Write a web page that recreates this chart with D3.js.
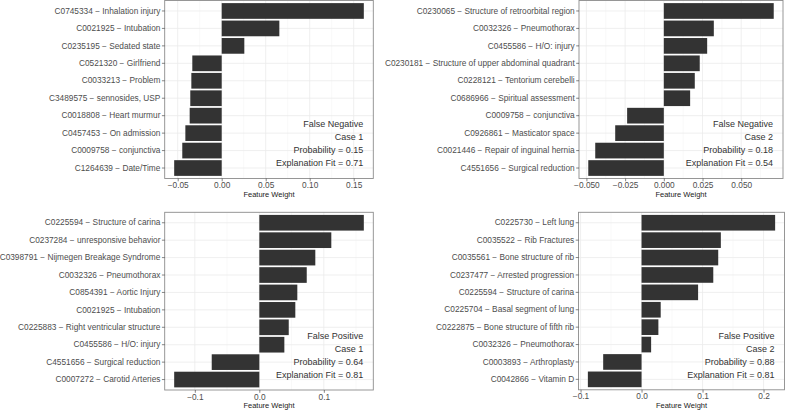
<!DOCTYPE html>
<html>
<head>
<meta charset="utf-8">
<script src="https://d3js.org/d3.v7.min.js"></script>
<style>
    body {
        margin: 0;
        background: #ffffff;
    }
    text {
        font-family: "Liberation Sans", Arial, Helvetica, sans-serif;
    }
    .axis .tick text {
        font-size: 8.3px;
        fill: #4d4d4d;
    }
    .axis .tick line {
        stroke: #333333;
        stroke-width: 0.6px;
    }
    .axis path.domain {
        display: none;
    }
    .grid-major {
        stroke: #ebebeb;
        stroke-width: 0.8px;
    }
    .grid-minor {
        stroke: #f2f2f2;
        stroke-width: 0.5px;
    }
    text.axis-title {
        font-size: 7.5px;
        fill: #222222;
    }
    text.note {
        font-size: 9px;
        fill: #333333;
    }
</style>
</head>
<body>
<div id="container"></div>

<script>

    // ---- data ----
    const fn1Labels = ["C0745334 − Inhalation injury", "C0021925 − Intubation", "C0235195 − Sedated state",
        "C0521320 − Girlfriend", "C0033213 − Problem", "C3489575 − sennosides, USP", "C0018808 − Heart murmur",
        "C0457453 − On admission", "C0009758 − conjunctiva", "C1264639 − Date/Time"];
    const fn1Weights = [0.1615, 0.0655, 0.0257, -0.0334, -0.0345, -0.0357, -0.0364, -0.0413, -0.0448, -0.0540];
    const fn1Ticks = [-0.05, 0, 0.05, 0.10, 0.15];
    const fn1Notes = ["False Negative", "Case 1", "Probability = 0.15", "Explanation Fit = 0.71"];

    const fn2Labels = ["C0230065 − Structure of retroorbital region", "C0032326 − Pneumothorax", "C0455586 − H/O: injury",
        "C0230181 − Structure of upper abdominal quadrant", "C0228121 − Tentorium cerebelli", "C0686966 − Spiritual assessment",
        "C0009758 − conjunctiva", "C0926861 − Masticator space", "C0021446 − Repair of inguinal hernia", "C4551656 − Surgical reduction"];
    const fn2Weights = [0.0710, 0.0323, 0.0280, 0.0232, 0.0200, 0.0170, -0.0237, -0.0314, -0.0443, -0.0488];
    const fn2Ticks = [-0.050, -0.025, 0, 0.025, 0.050];
    const fn2Notes = ["False Negative", "Case 2", "Probability = 0.18", "Explanation Fit = 0.54"];

    const fp1Labels = ["C0225594 − Structure of carina", "C0237284 − unresponsive behavior", "C0398791 − Nijmegen Breakage Syndrome",
        "C0032326 − Pneumothorax", "C0854391 − Aortic Injury", "C0021925 − Intubation", "C0225883 − Right ventricular structure",
        "C0455586 − H/O: injury", "C4551656 − Surgical reduction", "C0007272 − Carotid Arteries"];
    const fp1Weights = [0.1620, 0.1116, 0.0868, 0.0735, 0.0589, 0.0558, 0.0456, 0.0388, -0.0738, -0.1320];
    const fp1Ticks = [-0.1, 0, 0.1];
    const fp1Notes = ["False Positive", "Case 1", "Probability = 0.64", "Explanation Fit = 0.81"];

    const fp2Labels = ["C0225730 − Left lung", "C0035522 − Rib Fractures", "C0035561 − Bone structure of rib",
        "C0237477 − Arrested progression", "C0225594 − Structure of carina", "C0225704 − Basal segment of lung",
        "C0222875 − Bone structure of fifth rib", "C0032326 − Pneumothorax", "C0003893 − Arthroplasty", "C0042866 − Vitamin D"];
    const fp2Weights = [0.2190, 0.1300, 0.1257, 0.1176, 0.0927, 0.0314, 0.0276, 0.0157, -0.0629, -0.0880];
    const fp2Ticks = [-0.1, 0, 0.1, 0.2];
    const fp2Notes = ["False Positive", "Case 2", "Probability = 0.88", "Explanation Fit = 0.81"];

    // panel boxes in page pixels (layout only)
    const boxes = [
        {x0: 164.7, x1: 373.3, y0: 0.5, y1: 178.5},
        {x0: 579, x1: 783, y0: 0.5, y1: 178.5},
        {x0: 164.7, x1: 373.3, y0: 212.3, y1: 390},
        {x0: 578.5, x1: 784.5, y0: 212.3, y1: 389.8}
    ];

    const panels = [
        {labels: fn1Labels, weights: fn1Weights, ticks: fn1Ticks, notes: fn1Notes, fmt: ".2f"},
        {labels: fn2Labels, weights: fn2Weights, ticks: fn2Ticks, notes: fn2Notes, fmt: ".3f"},
        {labels: fp1Labels, weights: fp1Weights, ticks: fp1Ticks, notes: fp1Notes, fmt: ".1f"},
        {labels: fp2Labels, weights: fp2Weights, ticks: fp2Ticks, notes: fp2Notes, fmt: ".1f"}
    ];

    const svg = d3.select("#container")
        .append("svg")
        .attr("width", 788)
        .attr("height", 411);

    panels.forEach(function(p, i) {
        const b = boxes[i];
        const rows = p.labels.map((l, j) => ({label: l, weight: p.weights[j]}));

        // x scale with ggplot-like 5% expansion
        const lo = d3.min(p.weights), hi = d3.max(p.weights);
        const pad = (hi - lo) * 0.05;
        const x = d3.scaleLinear()
            .domain([lo - pad, hi + pad])
            .range([b.x0, b.x1]);

        // y scale: discrete, 0.9 bar width, 0.6 unit expansion
        const y = d3.scaleBand()
            .domain(p.labels)
            .range([b.y0, b.y1])
            .paddingInner(0.1)
            .paddingOuter(0.15);

        const g = svg.append("g");

        // minor grid (midpoints between the major ticks)
        const step = p.ticks[1] - p.ticks[0];
        const minors = d3.range(p.ticks[0] - step / 2, hi + pad + step, step)
            .filter(v => v > lo - pad && v < hi + pad);
        g.selectAll(".grid-minor")
            .data(minors)
            .join("line")
            .attr("class", "grid-minor")
            .attr("x1", d => x(d)).attr("x2", d => x(d))
            .attr("y1", b.y0).attr("y2", b.y1);

        // major grid
        g.selectAll(".gx")
            .data(p.ticks)
            .join("line")
            .attr("class", "grid-major gx")
            .attr("x1", d => x(d)).attr("x2", d => x(d))
            .attr("y1", b.y0).attr("y2", b.y1);
        g.selectAll(".gy")
            .data(p.labels)
            .join("line")
            .attr("class", "grid-major gy")
            .attr("x1", b.x0).attr("x2", b.x1)
            .attr("y1", d => y(d) + y.bandwidth() / 2)
            .attr("y2", d => y(d) + y.bandwidth() / 2);

        // bars
        g.selectAll(".bar")
            .data(rows)
            .join("rect")
            .attr("class", "bar")
            .attr("x", d => x(Math.min(0, d.weight)))
            .attr("width", d => Math.abs(x(d.weight) - x(0)))
            .attr("y", d => y(d.label))
            .attr("height", y.bandwidth())
            .attr("fill", "#333333");

        // panel border
        g.append("rect")
            .attr("x", b.x0).attr("y", b.y0)
            .attr("width", b.x1 - b.x0).attr("height", b.y1 - b.y0)
            .attr("fill", "none")
            .attr("stroke", "#8c8c8c")
            .attr("stroke-width", 0.9);

        // axes
        g.append("g")
            .attr("class", "axis")
            .attr("transform", `translate(0, ${b.y1})`)
            .call(d3.axisBottom(x).tickValues(p.ticks).tickFormat(d3.format(p.fmt)).tickSize(2.8).tickPadding(1));
        g.append("g")
            .attr("class", "axis")
            .attr("transform", `translate(${b.x0}, 0)`)
            .call(d3.axisLeft(y).tickSize(2.8).tickPadding(1.5));

        // axis title
        g.append("text")
            .attr("class", "axis-title")
            .attr("x", (b.x0 + b.x1) / 2)
            .attr("y", b.y1 + 18.4)
            .attr("text-anchor", "middle")
            .text("Feature Weight");

        // notes, bottom right
        g.selectAll(".note")
            .data(p.notes)
            .join("text")
            .attr("class", "note")
            .attr("x", b.x1 - 10)
            .attr("y", (d, k) => b.y0 + 126.8 + k * 13)
            .attr("text-anchor", "end")
            .text(d => d);
    });

</script>
</body>
</html>
